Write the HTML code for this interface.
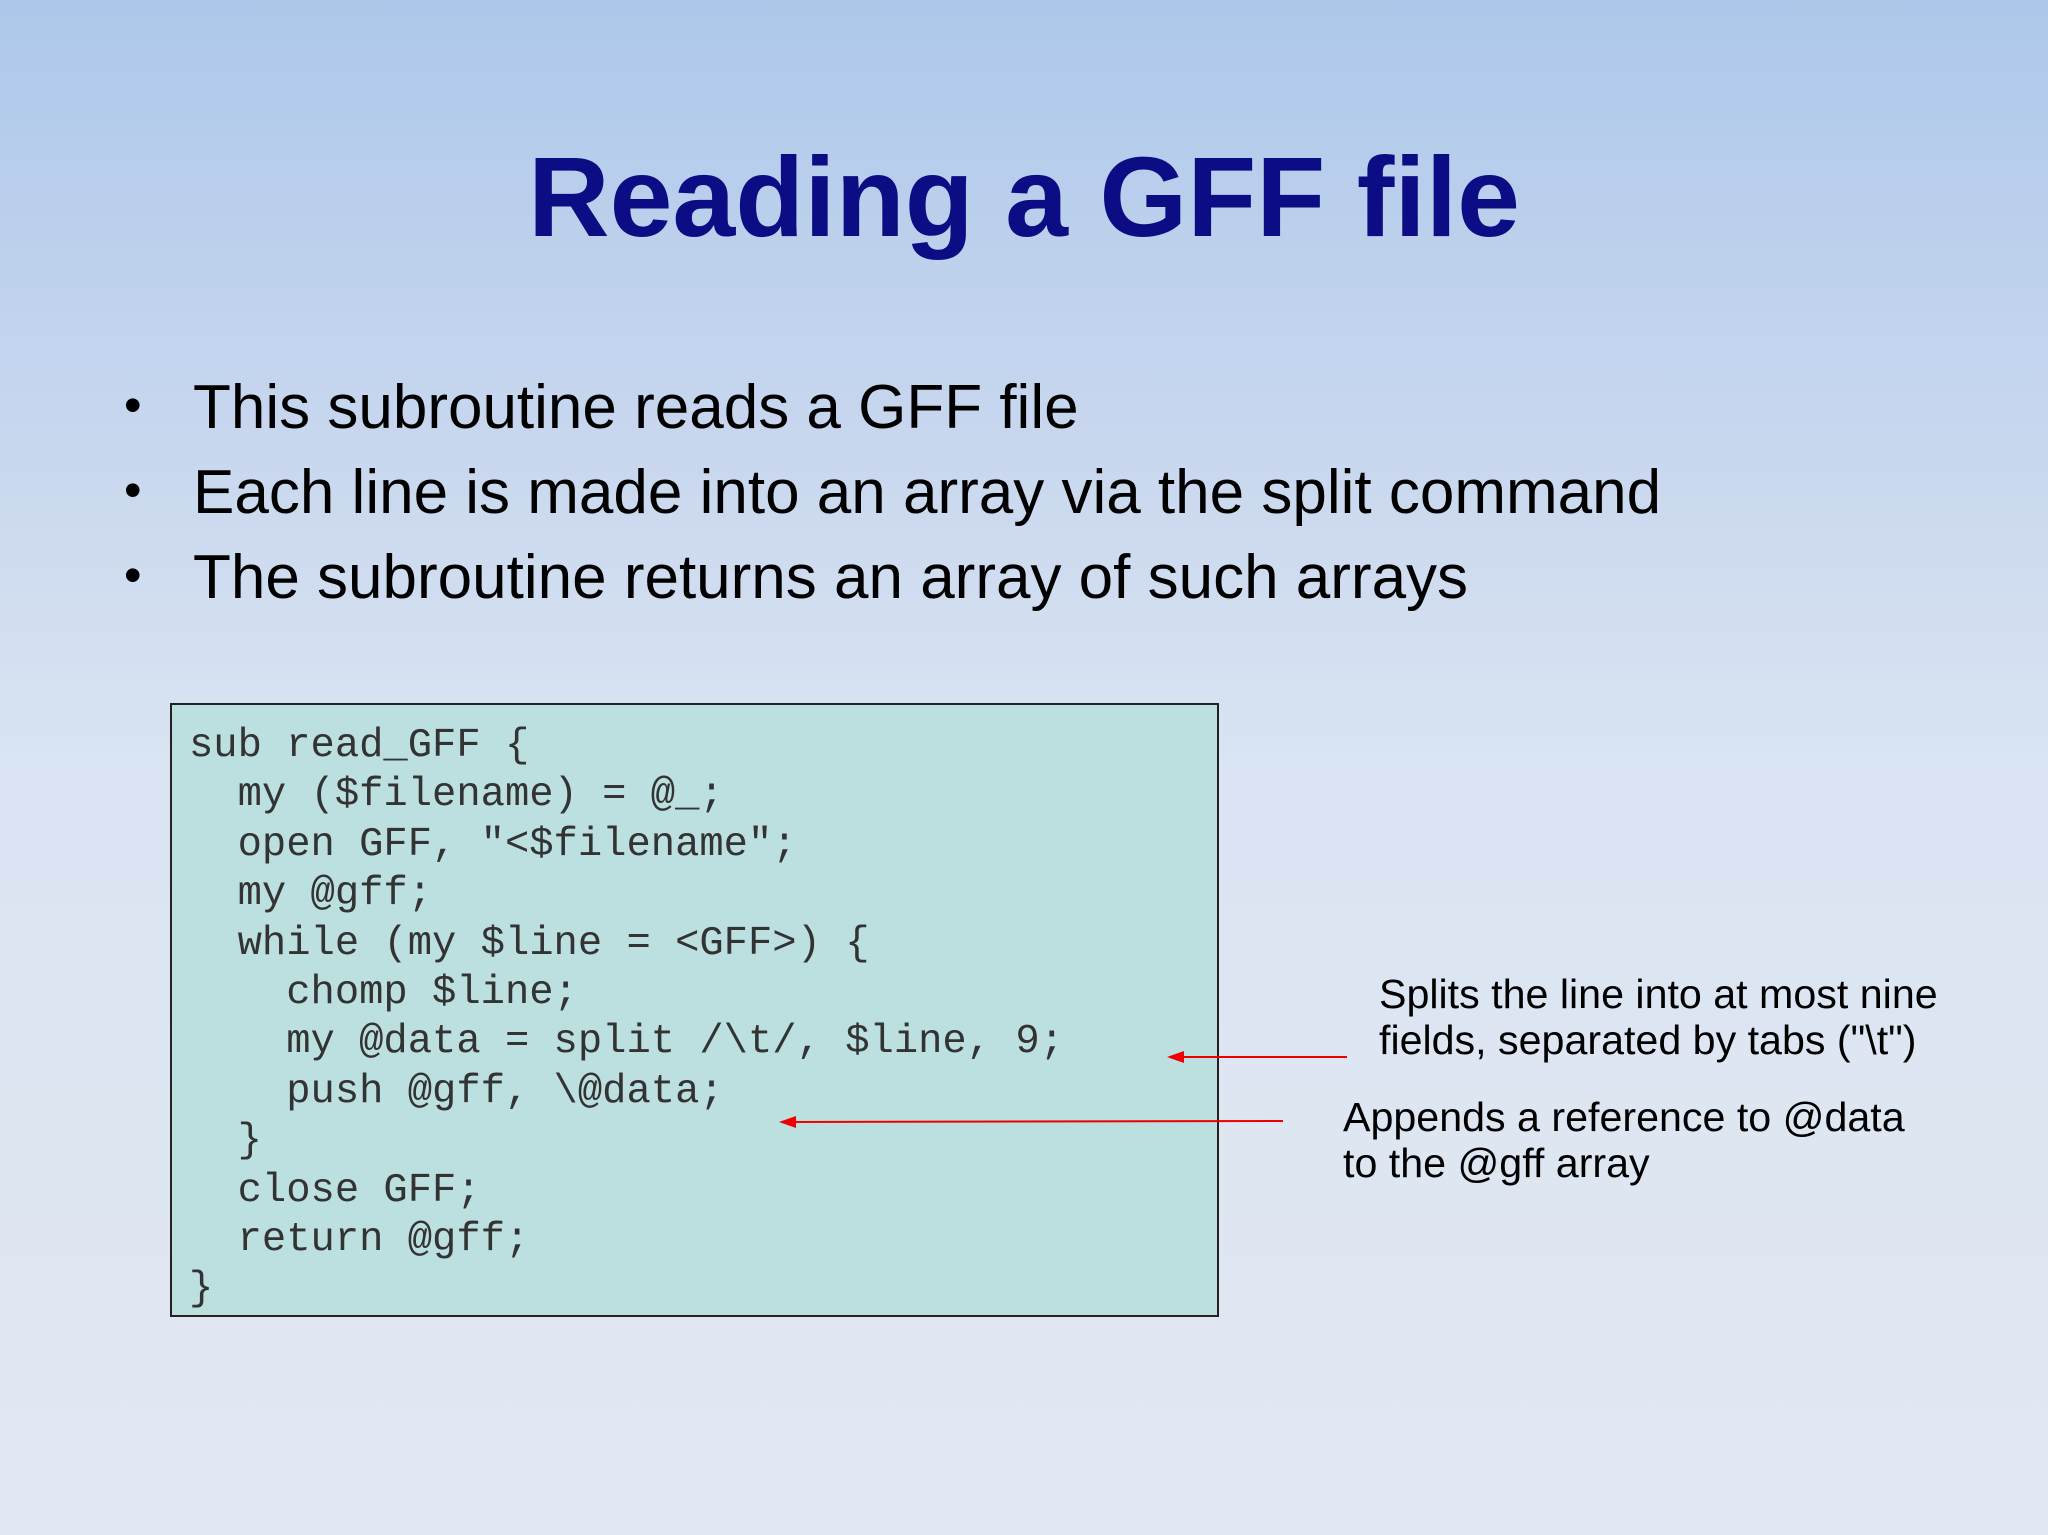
<!DOCTYPE html>
<html><head><meta charset="utf-8"><style>
html,body{margin:0;padding:0}
body{width:2048px;height:1535px;position:relative;overflow:hidden;
background:linear-gradient(180deg,#adc8ea 0%,#c5d5ee 25%,#dae4f2 50%,#e2e8f3 100%);
font-family:"Liberation Sans",sans-serif}
.t{position:absolute;left:0;width:2048px;text-align:center;top:122px;font-size:113px;font-weight:bold;color:#0c0c85;line-height:150px}
.b{position:absolute;left:193px;font-size:62px;color:#000;line-height:70px;white-space:nowrap}
.d{position:absolute;left:124px;font-size:50px;line-height:70px}
.box{position:absolute;left:170px;top:703px;width:1045px;height:610px;background:#bce0e0;border:2px solid #222}
pre{position:absolute;left:189px;top:722px;margin:0;font-family:"Liberation Mono",monospace;font-size:40.5px;line-height:49.4px;color:#333}
.a{position:absolute;font-size:41.2px;line-height:46px;color:#000;white-space:nowrap}
</style></head><body>
<div class="t">Reading a GFF file</div>
<div class="d" style="top:370px">•</div><div class="b" style="top:373px">This subroutine reads a GFF file</div>
<div class="d" style="top:455px">•</div><div class="b" style="top:458px">Each line is made into an array via the split command</div>
<div class="d" style="top:540px">•</div><div class="b" style="top:543px">The subroutine returns an array of such arrays</div>
<div class="box"></div>
<pre>sub read_GFF {
  my ($filename) = @_;
  open GFF, "&lt;$filename";
  my @gff;
  while (my $line = &lt;GFF&gt;) {
    chomp $line;
    my @data = split /\t/, $line, 9;
    push @gff, \@data;
  }
  close GFF;
  return @gff;
}</pre>
<div class="a" style="left:1379px;top:971px">Splits the line into at most nine<br>fields, separated by tabs ("\t")</div>
<div class="a" style="left:1343px;top:1094px">Appends a reference to @data<br>to the @gff array</div>
<svg width="2048" height="1535" style="position:absolute;left:0;top:0">
<line x1="1347" y1="1057" x2="1180" y2="1057" stroke="#e00" stroke-width="2"/>
<polygon points="1167,1057 1184,1051 1184,1063" fill="#e00"/>
<line x1="1283" y1="1121" x2="792" y2="1122" stroke="#e00" stroke-width="2"/>
<polygon points="779,1122 796,1116 796,1128" fill="#e00"/>
</svg>
</body></html>
